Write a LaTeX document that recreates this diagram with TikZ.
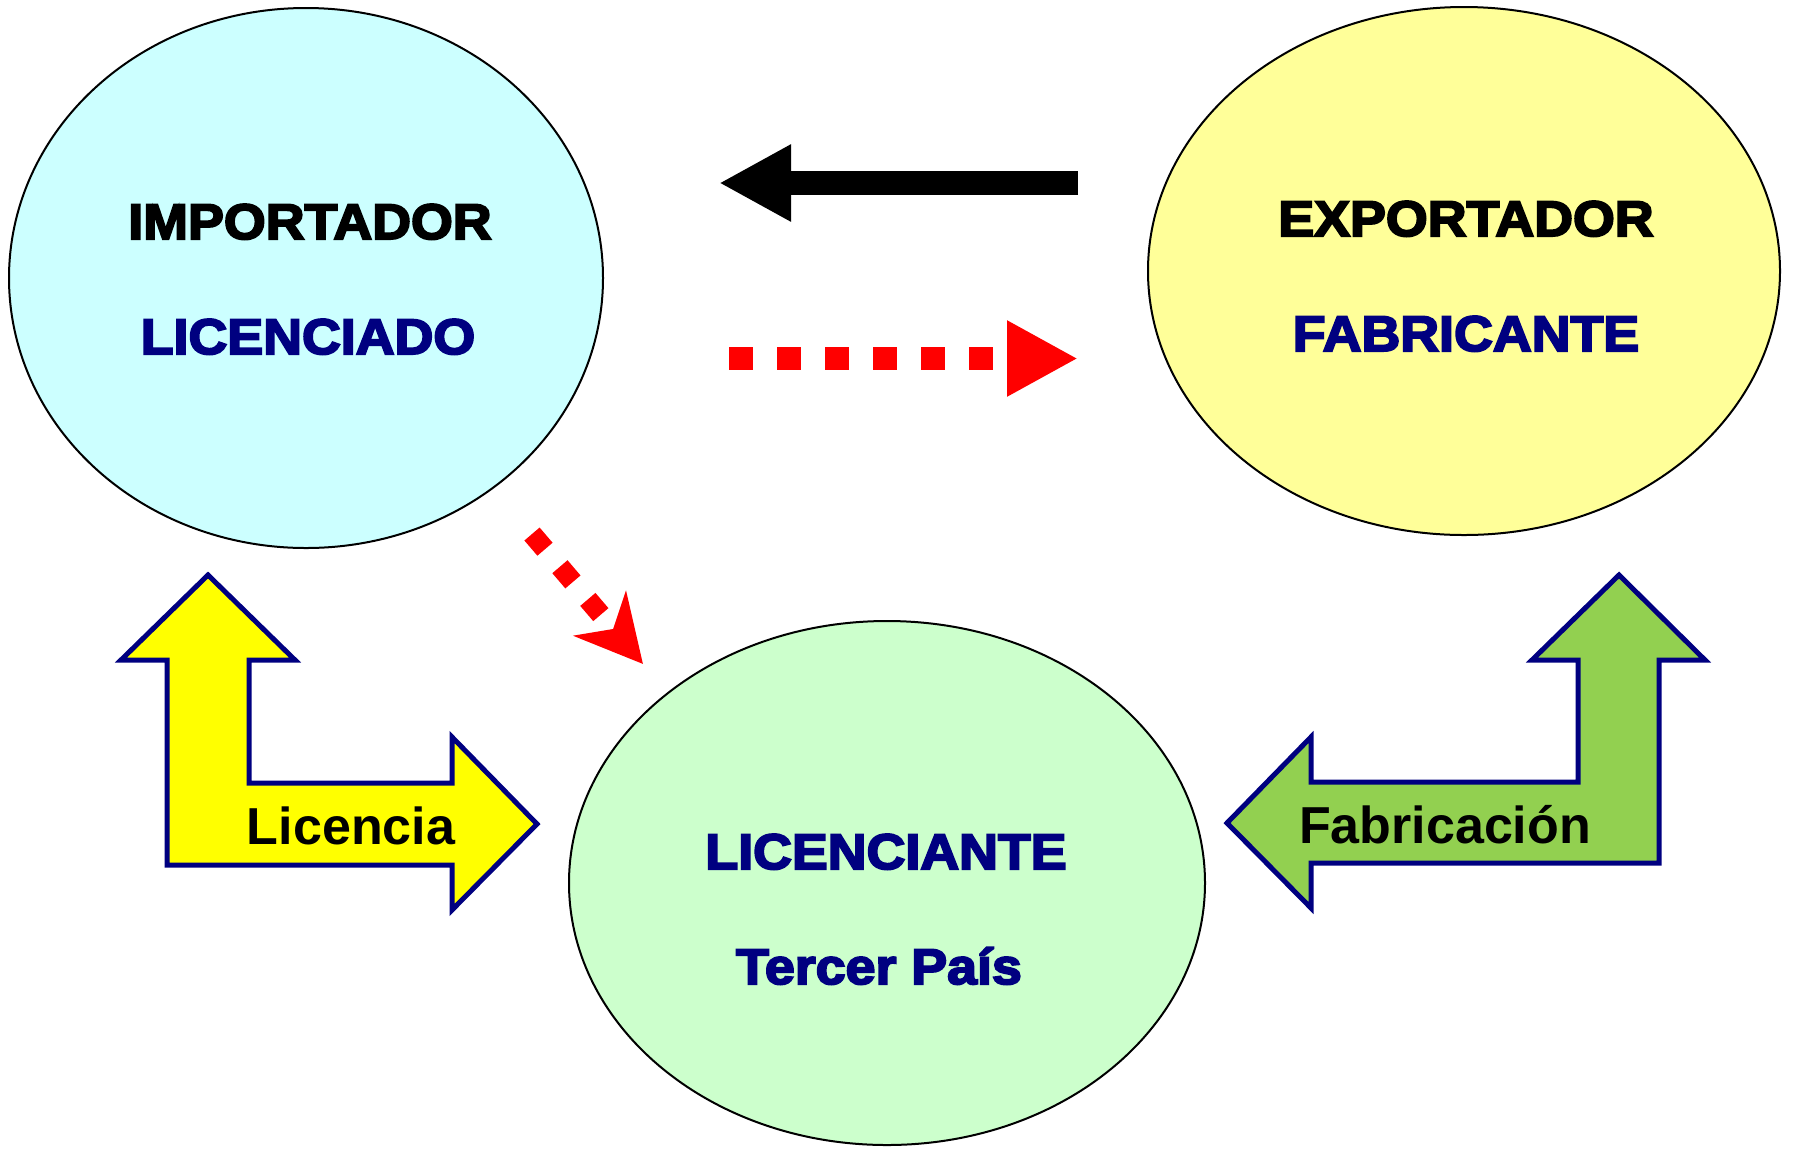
\documentclass[tikz,border=0pt]{standalone}
\usepackage{fontspec}
\setmainfont{Liberation Sans}
\newfontfamily\heavyfont{Liberation Sans}[UprightFont=* Bold, FakeBold=4, FakeStretch=1.075]
\usetikzlibrary{
        arrows.meta,
        positioning,
        shapes.geometric
    }
\definecolor{impfill}{HTML}{CCFFFF}
\definecolor{expfill}{HTML}{FFFF99}
\definecolor{licfill}{HTML}{CCFFCC}
\definecolor{navytext}{HTML}{000080}
\definecolor{licyellow}{HTML}{FFFF00}
\definecolor{fabgreen}{HTML}{92D050}
\tikzset{party/.style={ellipse,draw=black,line width=1pt,inner sep=0pt}}
\tikzset{role/.style={font=\heavyfont\fontsize{25}{30}\selectfont,anchor=base,inner sep=0pt}}
\tikzset{armlabel/.style={font=\bfseries\fontsize{26}{31}\selectfont,anchor=base,inner sep=0pt}}
\tikzset{bentarrow/.style={draw=navytext,line width=2.5pt,line join=miter}}

\begin{document}
\begin{tikzpicture}[x=0.5pt,y=-0.5pt]
                \useasboundingbox (0,0) rectangle (1794,1148);
                % the three parties
                \node[party,fill=impfill,minimum width=297pt,minimum height=270pt] (imp) at (306,278) {};
                \node[party,fill=expfill,minimum width=316pt,minimum height=264pt] (exp) at (1464,271) {};
                \node[party,fill=licfill,minimum width=318pt,minimum height=262pt] (lic) at (887,883) {};
                \node[role] (impT) at (310,239) {IMPORTADOR};
                \node[role,text=navytext] (impS) at (308,354) {LICENCIADO};
                \node[role] (expT) at (1466,236) {EXPORTADOR};
                \node[role,text=navytext] (expS) at (1466,351) {FABRICANTE};
                \node[role,text=navytext] (licT) at (886,869) {LICENCIANTE};
                \node[role,text=navytext] (licS) at (879,984) {Tercer País};
                % flows between them
                \coordinate (blkA) at (1078,183);
                \coordinate (blkB) at (719,183);
                \coordinate (redA) at (729,358.5);
                \coordinate (redB) at (1078,358.5);
                \coordinate (diaA) at (532,534);
                \coordinate (diaB) at (643,664);
                \draw[line width=12pt,-{Triangle[length=36pt,width=36pt]}] (blkA) -- (blkB);
                \draw[red,line width=11.5pt,dash pattern=on 12pt off 12pt,
                    -{Triangle[length=35.5pt,width=35.5pt]}] (redA) -- (redB);
                \draw[red,line width=10pt,dash pattern=on 10pt off 11.5pt,
                    -{Stealth[length=33pt,width=34pt,inset=10pt]}] (diaA) -- (diaB);
                % bent arrows
                \draw[bentarrow,fill=licyellow] (208,575) -- (295,660) -- (249,660) -- (249,783)
                    -- (452,783) -- (452,737) -- (537,824) -- (452,910) -- (452,865)
                    -- (167,865) -- (167,660) -- (121,660) -- cycle;
                \draw[bentarrow,fill=fabgreen] (1619,575) -- (1705,660) -- (1659,660) -- (1659,863)
                    -- (1311,863) -- (1311,908) -- (1227,823) -- (1311,737) -- (1311,782)
                    -- (1578,782) -- (1578,660) -- (1532,660) -- cycle;
                \node[armlabel] (licencia) at (351,844) {Licencia};
                \node[armlabel] (fabric) at (1445,843) {Fabricación};
\end{tikzpicture}
\end{document}
